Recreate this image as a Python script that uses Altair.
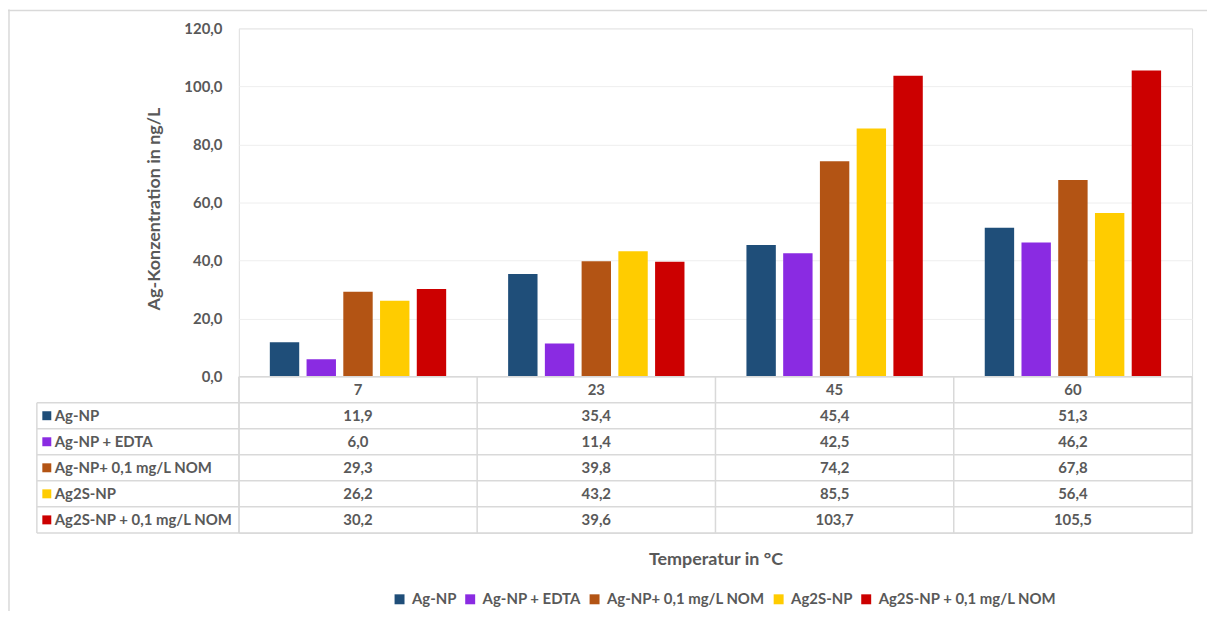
import altair as alt
import pandas as pd

# ---------------- data ----------------
temps = ["7", "23", "45", "60"]
series = ["Ag-NP", "Ag-NP + EDTA", "Ag-NP+ 0,1 mg/L NOM", "Ag2S-NP", "Ag2S-NP + 0,1 mg/L NOM"]
ag_np = [11.9, 35.4, 45.4, 51.3]
ag_np_edta = [6.0, 11.4, 42.5, 46.2]
ag_np_nom = [29.3, 39.8, 74.2, 67.8]
ag2s_np = [26.2, 43.2, 85.5, 56.4]
ag2s_np_nom = [30.2, 39.6, 103.7, 105.5]
colors = ["#1F4E79", "#8A2BE2", "#B35414", "#FFCC00", "#CC0000"]
y_ticks = [0, 20, 40, 60, 80, 100, 120]

values = [ag_np, ag_np_edta, ag_np_nom, ag2s_np, ag2s_np_nom]

# ---------------- geometry ----------------
W = 958          # plot width (value columns)
BAR_H = 350      # height of the bar region (0..120)
ROW_H = 26.17    # table row height
N_ROWS = 6
H = BAR_H + N_ROWS * ROW_H
Y_MIN = -N_ROWS * ROW_H * 120 / BAR_H
T_MIN = -BAR_H / ROW_H
LEFT_COL = 203 / (W / 4)   # width of the label column in column units

FONT = "Lato"
GRAY = "#595959"
LINE = "#d9d9d9"
FS = 15


def de(v):
    return f"{v:.1f}".replace(".", ",")


rows = []
for s_i, s in enumerate(series):
    for t_i, t in enumerate(temps):
        v = values[s_i][t_i]
        rows.append({"temp": t, "series": s, "value": v})
df = pd.DataFrame(rows)

# table cells
cells = []
for t_i, t in enumerate(temps):
    cells.append({"tx": t_i + 0.5, "ty": 0.5, "label": t})
for s_i, s in enumerate(series):
    for t_i, t in enumerate(temps):
        cells.append({"tx": t_i + 0.5, "ty": s_i + 1.5, "label": de(values[s_i][t_i])})
cells = pd.DataFrame(cells)

row_labels = pd.DataFrame({"series": series,
                           "tx": [-LEFT_COL] * len(series),
                           "ty": [i + 1.5 for i in range(len(series))]})

# table grid lines
lines = []
for r in range(N_ROWS + 1):
    lines.append({"tx": 0 if r == 0 else -LEFT_COL, "tx2": len(temps), "ty": r, "ty2": r})
lines.append({"tx": -LEFT_COL, "tx2": -LEFT_COL, "ty": 1, "ty2": N_ROWS})
for c in range(len(temps) + 1):
    lines.append({"tx": c, "tx2": c, "ty": 0, "ty2": N_ROWS})
lines = pd.DataFrame(lines)

color_scale = alt.Scale(domain=series, range=colors)
tx_scale = alt.Scale(domain=[0, len(temps)], nice=False, zero=False)
ty_scale = alt.Scale(domain=[T_MIN, N_ROWS], nice=False, zero=False, reverse=True)

legend = alt.Legend(
    title=None, orient="none", legendX=154, legendY=566, direction="horizontal",
    symbolType="square", symbolSize=100, symbolStrokeWidth=0,
    labelFont=FONT, labelFontWeight="bold", labelFontSize=FS, labelColor=GRAY,
    columnPadding=6, labelOffset=5, labelLimit=400,
)

bars = alt.Chart(df).mark_bar().encode(
    x=alt.X("temp:N", sort=temps,
            scale=alt.Scale(paddingInner=0.26, paddingOuter=0.13),
            axis=alt.Axis(title="Temperatur in °C", labels=False, ticks=False, domain=False,
                          titlePadding=18, titleFont=FONT, titleFontSize=18,
                          titleFontWeight="bold", titleColor=GRAY)),
    xOffset=alt.XOffset("series:N", sort=series,
                        scale=alt.Scale(paddingInner=0.2, paddingOuter=0)),
    y=alt.Y("value:Q",
            scale=alt.Scale(domain=[Y_MIN, 120], nice=False, zero=False),
            axis=alt.Axis(values=y_ticks, title="Ag-Konzentration in ng/L",
                          labelExpr="replace(format(datum.value, '.1f'), '.', ',')",
                          labelFont=FONT, labelFontSize=FS, labelFontWeight="bold",
                          labelColor=GRAY, labelPadding=17, ticks=False, domain=False,
                          grid=True, gridColor="#eeeeee", gridWidth=1,
                          titleFont=FONT, titleFontSize=18, titleFontWeight="bold",
                          titleColor=GRAY, titleX=-85, titleY=181, titleAngle=270,
                          titleAlign="center", titleBaseline="middle")),
    y2=alt.datum(0),
    color=alt.Color("series:N", sort=series, scale=color_scale, legend=legend),
)

grid_rules = alt.Chart(lines).mark_rule(color=LINE, strokeWidth=1.5).encode(
    x=alt.X("tx:Q", scale=tx_scale, axis=None),
    x2="tx2:Q",
    y=alt.Y("ty:Q", scale=ty_scale, axis=None),
    y2="ty2:Q",
)

cell_text = alt.Chart(cells).mark_text(
    font=FONT, fontSize=FS, fontWeight="bold", color=GRAY, baseline="middle", align="center"
).encode(
    x=alt.X("tx:Q", scale=tx_scale, axis=None),
    y=alt.Y("ty:Q", scale=ty_scale, axis=None),
    text="label:N",
)

row_text = alt.Chart(row_labels).mark_text(
    font=FONT, fontSize=FS, fontWeight="bold", color=GRAY, baseline="middle",
    align="left", dx=18
).encode(
    x=alt.X("tx:Q", scale=tx_scale, axis=None),
    y=alt.Y("ty:Q", scale=ty_scale, axis=None),
    text="series:N",
)

row_squares = alt.Chart(row_labels).mark_square(size=81, opacity=1, xOffset=10).encode(
    x=alt.X("tx:Q", scale=tx_scale, axis=None),
    y=alt.Y("ty:Q", scale=ty_scale, axis=None),
    color=alt.Color("series:N", sort=series, scale=color_scale, legend=legend),
)

table = alt.layer(grid_rules, cell_text, row_text, row_squares)

frame_top = alt.Chart(pd.DataFrame({"k": [0]})).mark_rule(color=LINE, strokeWidth=1.5).encode(
    x=alt.value(-232), x2=alt.value(980), y=alt.value(-18), y2=alt.value(-18))
frame_left = alt.Chart(pd.DataFrame({"k": [0]})).mark_rule(color=LINE, strokeWidth=1.5).encode(
    x=alt.value(-231), x2=alt.value(-231), y=alt.value(-19), y2=alt.value(600))

chart = alt.layer(bars, table, frame_top, frame_left).resolve_scale(
    x="independent", y="independent"
).properties(
    width=W, height=H,
    autosize=alt.AutoSizeParams(type="none"),
    padding={"left": 232, "top": 19, "right": 15, "bottom": 603 - 19 - int(round(H))},
).configure_view(stroke=None).configure(background="white")

chart.save("out.html", embed_options={"renderer": "svg", "actions": False})
